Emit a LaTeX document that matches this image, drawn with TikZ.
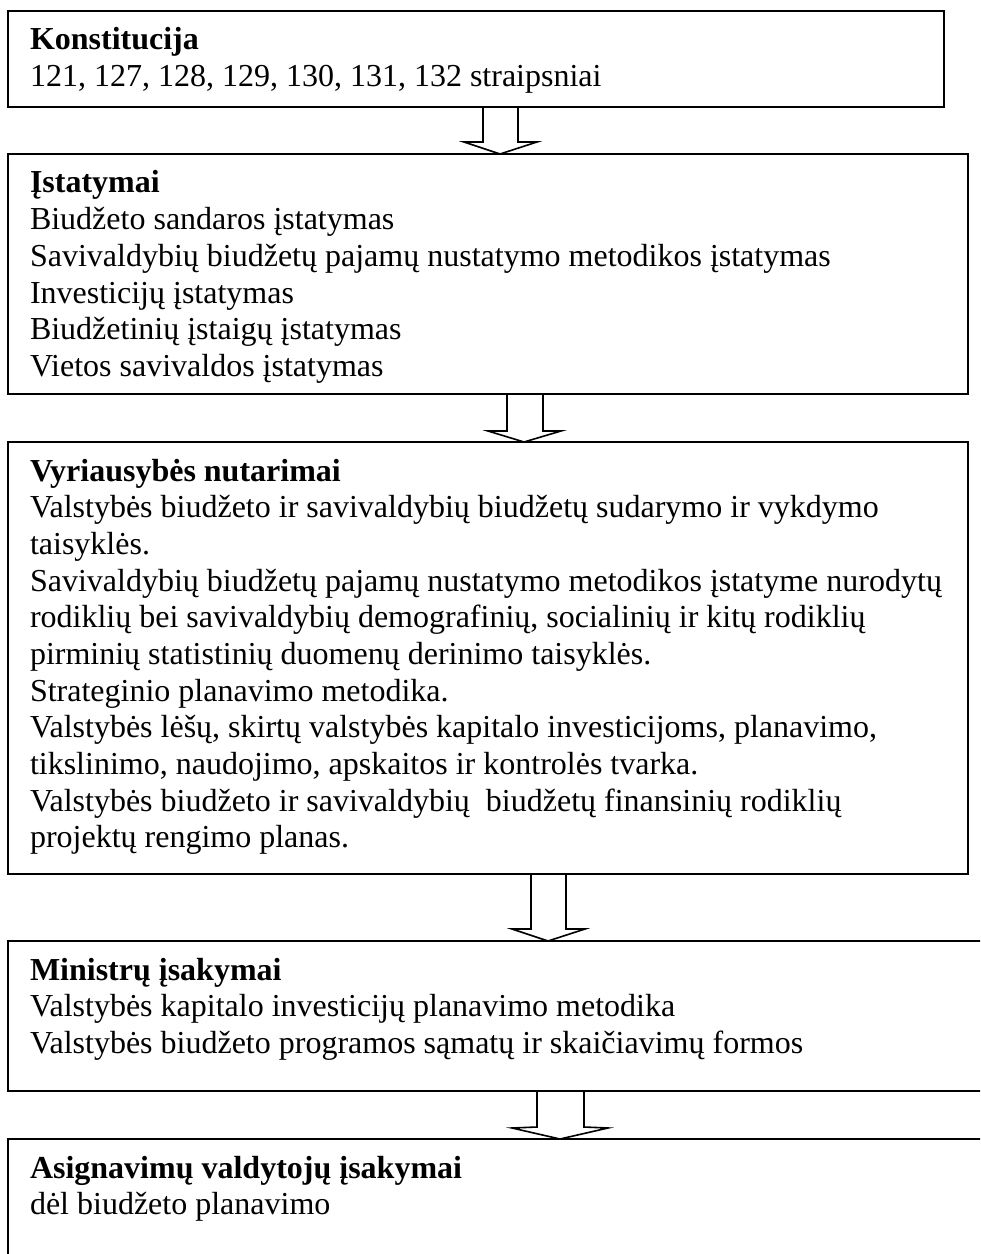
\documentclass[tikz,border=0pt]{standalone}
\usepackage{fontspec}
\setmainfont{Liberation Serif}
\usetikzlibrary{calc}
\newdimen\upx
\upx=0.375pt
\begin{document}
\begin{tikzpicture}[x=0.375pt,y=-0.375pt,
  box/.style={draw,line width=0.75pt,rectangle,anchor=north west,inner sep=0pt,outer sep=0pt},
  txt/.style={anchor=base west,inner sep=0pt,outer sep=0pt,
    font=\fontsize{12}{13.76}\selectfont},
  blockarrow/.style={draw,line width=0.6pt,line join=miter}]
\useasboundingbox (0,0) rectangle (980,1254);
\clip (0,0) rectangle (980,1254);

% boxes
\node[box,minimum width=936\upx,minimum height=96\upx] (b1) at (8,11) {};
\node[box,minimum width=960\upx,minimum height=240\upx] (b2) at (8,154) {};
\node[box,minimum width=960\upx,minimum height=432\upx] (b3) at (8,442) {};
\node[box,minimum width=1010\upx,minimum height=150\upx] (b4) at (8,941) {};
\node[box,minimum width=1010\upx,minimum height=200\upx] (b5) at (8,1139) {};

% texts
\node[txt] (t1) at (30,50) {\begin{tabular}[t]{@{}l@{}}
\textbf{Konstitucija}\\
121, 127, 128, 129, 130, 131, 132 straipsniai
\end{tabular}};

\node[txt] (t2) at (30,193) {\begin{tabular}[t]{@{}l@{}}
\textbf{Įstatymai}\\
Biudžeto sandaros įstatymas\\
Savivaldybių biudžetų pajamų nustatymo metodikos įstatymas\\
Investicijų įstatymas\\
Biudžetinių įstaigų įstatymas\\
Vietos savivaldos įstatymas
\end{tabular}};

\node[txt] (t3) at (30,481) {\begin{tabular}[t]{@{}l@{}}
\textbf{Vyriausybės nutarimai}\\
Valstybės biudžeto ir savivaldybių biudžetų sudarymo ir vykdymo\\
taisyklės.\\
Savivaldybių biudžetų pajamų nustatymo metodikos įstatyme nurodytų\\
rodiklių bei savivaldybių demografinių, socialinių ir kitų rodiklių\\
pirminių statistinių duomenų derinimo taisyklės.\\
Strateginio planavimo metodika.\\
Valstybės lėšų, skirtų valstybės kapitalo investicijoms, planavimo,\\
tikslinimo, naudojimo, apskaitos ir kontrolės tvarka.\\
Valstybės biudžeto ir savivaldybių~ biudžetų finansinių rodiklių\\
projektų rengimo planas.
\end{tabular}};

\node[txt] (t4) at (30,980) {\begin{tabular}[t]{@{}l@{}}
\textbf{Ministrų įsakymai}\\
Valstybės kapitalo investicijų planavimo metodika\\
Valstybės biudžeto programos sąmatų ir skaičiavimų formos
\end{tabular}};

\node[txt] (t5) at (30,1178) {\begin{tabular}[t]{@{}l@{}}
\textbf{Asignavimų valdytojų įsakymai}\\
dėl biudžeto planavimo
\end{tabular}};

% hollow block arrows between the boxes
\draw[blockarrow] ($(b1.south west)+(475,0)$) -- ($(b1.south west)+(475,35)$)
  -- ($(b2.north west)+(456,-12)$) -- ($(b2.north west)+(492,0)$)
  -- ($(b2.north west)+(529,-12)$) -- ($(b1.south west)+(510,35)$)
  -- ($(b1.south west)+(510,0)$);
\draw[blockarrow] ($(b2.south west)+(499,0)$) -- ($(b2.south west)+(499,37)$)
  -- ($(b3.north west)+(480,-11)$) -- ($(b3.north west)+(516,0)$)
  -- ($(b3.north west)+(553,-11)$) -- ($(b2.south west)+(535,37)$)
  -- ($(b2.south west)+(535,0)$);
\draw[blockarrow] ($(b3.south west)+(523,0)$) -- ($(b3.south west)+(523,55)$)
  -- ($(b4.north west)+(504,-12)$) -- ($(b4.north west)+(540,0)$)
  -- ($(b4.north west)+(577,-12)$) -- ($(b3.south west)+(558,55)$)
  -- ($(b3.south west)+(558,0)$);
\draw[blockarrow] ($(b4.south west)+(529,0)$) -- ($(b4.south west)+(529,36)$)
  -- ($(b5.north west)+(504,-11)$) -- ($(b5.north west)+(552,0)$)
  -- ($(b5.north west)+(600,-11)$) -- ($(b4.south west)+(576,36)$)
  -- ($(b4.south west)+(576,0)$);
\end{tikzpicture}
\end{document}
